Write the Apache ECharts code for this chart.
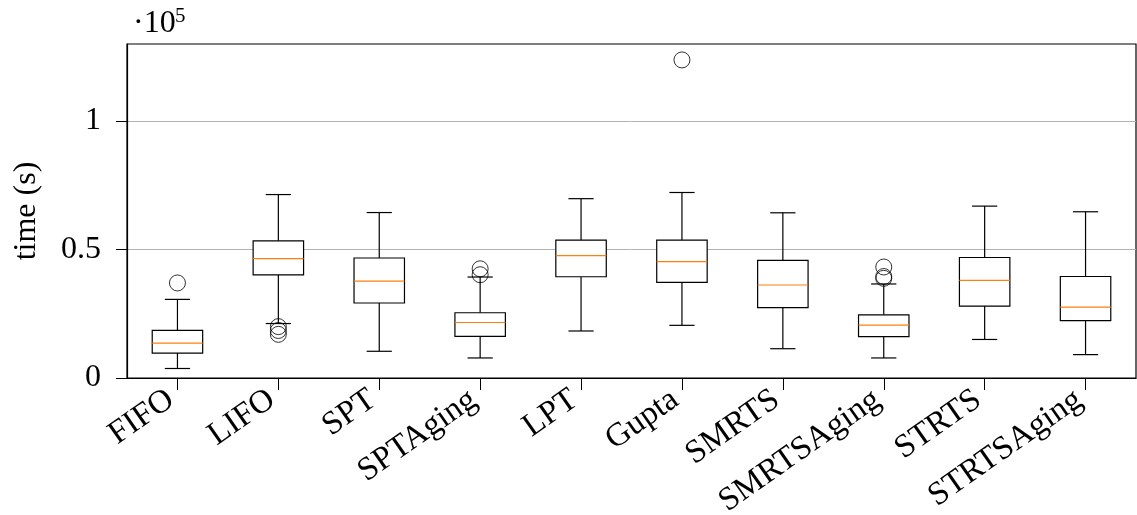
<!DOCTYPE html>
<html>
<head>
<meta charset="utf-8">
<script src="https://cdn.jsdelivr.net/npm/echarts@6/dist/echarts.min.js"></script>
<style>
  html, body { margin: 0; padding: 0; background: #fff; }
  #chart { width: 1137px; height: 515px; }
</style>
</head>
<body>
<div id="chart"></div>
<script>
// Scheduling policies compared
const categories = ['FIFO', 'LIFO', 'SPT', 'SPTAging', 'LPT', 'Gupta', 'SMRTS', 'SMRTSAging', 'STRTS', 'STRTSAging'];

// Box statistics per policy, in seconds
const whiskerLow  = [3700, 21200, 10400,  7800, 18300, 20500, 11400,  7800, 15000,  9100];
const quartile1   = [9700, 40100, 29200, 16200, 39400, 37200, 27400, 16100, 28000, 22300];
const medians     = [13600, 46500, 37700, 21600, 47600, 45300, 36200, 20600, 38000, 27600];
const quartile3   = [18500, 53400, 46700, 25400, 53700, 53700, 45800, 24600, 46900, 39500];
const whiskerHigh = [30600, 71400, 64400, 39300, 69800, 72200, 64300, 36600, 66900, 64700];

// Outliers: [policy, seconds]
const outliers = [
  ['FIFO', 37000],
  ['LIFO', 20000], ['LIFO', 18500], ['LIFO', 17000],
  ['SPTAging', 42500], ['SPTAging', 40200],
  ['Gupta', 123800],
  ['SMRTSAging', 43200], ['SMRTSAging', 39500], ['SMRTSAging', 38800]
];

// Y axis ticks (seconds) and the scale shown above the axis
const yTicks = [0, 50000, 100000];
const yScale = 1e5;

const FONT = 'Liberation Serif';

const boxData = categories.map((c, i) =>
  [i, whiskerLow[i], quartile1[i], medians[i], quartile3[i], whiskerHigh[i]]);

function renderBox(params, api) {
  const i = api.value(0);
  const band = api.size([1, 0])[0];
  const half = band * 0.25;
  const capHalf = band * 0.125;
  const pLow = api.coord([i, api.value(1)]);
  const pQ1 = api.coord([i, api.value(2)]);
  const pMed = api.coord([i, api.value(3)]);
  const pQ3 = api.coord([i, api.value(4)]);
  const pHigh = api.coord([i, api.value(5)]);
  const cx = pMed[0];
  const line = { stroke: '#000', lineWidth: 1.2, fill: null };
  return {
    type: 'group',
    children: [
      { type: 'line', shape: { x1: cx, y1: pQ1[1], x2: cx, y2: pLow[1] }, style: line },
      { type: 'line', shape: { x1: cx, y1: pQ3[1], x2: cx, y2: pHigh[1] }, style: line },
      { type: 'line', shape: { x1: cx - capHalf, y1: pLow[1], x2: cx + capHalf, y2: pLow[1] }, style: line },
      { type: 'line', shape: { x1: cx - capHalf, y1: pHigh[1], x2: cx + capHalf, y2: pHigh[1] }, style: line },
      { type: 'rect', shape: { x: cx - half, y: pQ3[1], width: half * 2, height: pQ1[1] - pQ3[1] },
        style: { stroke: '#000', lineWidth: 1.2, fill: '#fff' } },
      { type: 'line', shape: { x1: cx - half, y1: pMed[1], x2: cx + half, y2: pMed[1] },
        style: { stroke: '#ff7f0e', lineWidth: 1.2 } }
    ]
  };
}

const chart = echarts.init(document.getElementById('chart'), null, { renderer: 'canvas' });
chart.setOption({
  animation: false,
  backgroundColor: '#fff',
  grid: {
    left: 127, right: 1, top: 44, bottom: 137,
    containLabel: false,
    outerBoundsMode: 'none',
    show: true, borderColor: '#000', borderWidth: 1.2, backgroundColor: 'transparent'
  },
  xAxis: {
    type: 'category',
    data: categories,
    boundaryGap: true,
    axisLine: { lineStyle: { color: '#000', width: 1.2 } },
    axisTick: { show: true, alignWithLabel: true, length: 12, lineStyle: { color: '#000', width: 1 } },
    axisLabel: {
      rotate: 35, margin: 14, interval: 0,
      padding: [0, 8, 0, 0],
      fontFamily: FONT, fontSize: 33, color: '#000'
    },
    splitLine: { show: false }
  },
  yAxis: {
    type: 'value',
    min: 0, max: 130000, interval: 50000,
    name: 'time (s)',
    nameLocation: 'middle',
    nameRotate: 90,
    nameGap: 84,
    nameTextStyle: { fontFamily: FONT, fontSize: 32, color: '#000' },
    axisLine: { show: true, lineStyle: { color: '#000', width: 1.2 } },
    axisTick: { show: true, length: 11, customValues: yTicks, lineStyle: { color: '#000', width: 1 } },
    axisLabel: {
      customValues: yTicks,
      margin: 26,
      fontFamily: FONT, fontSize: 32, color: '#000',
      formatter: v => String(v / yScale)
    },
    splitLine: { show: true, lineStyle: { color: '#b3b3b3', width: 1 } }
  },
  graphic: [
    { type: 'text', left: 133, top: 8, style: { text: '·10', fontFamily: FONT, fontSize: 32, fill: '#000' } },
    { type: 'text', left: 175, top: 6, style: { text: '5', fontFamily: FONT, fontSize: 21, fill: '#000' } }
  ],
  series: [
    {
      type: 'custom',
      renderItem: renderBox,
      encode: { x: 0, y: [1, 2, 3, 4, 5] },
      data: boxData,
      z: 2
    },
    {
      type: 'scatter',
      data: outliers,
      symbol: 'circle',
      symbolSize: 16,
      itemStyle: { color: 'rgba(0,0,0,0)', borderColor: '#000', borderWidth: 1 },
      z: 3
    }
  ]
});
</script>
</body>
</html>
